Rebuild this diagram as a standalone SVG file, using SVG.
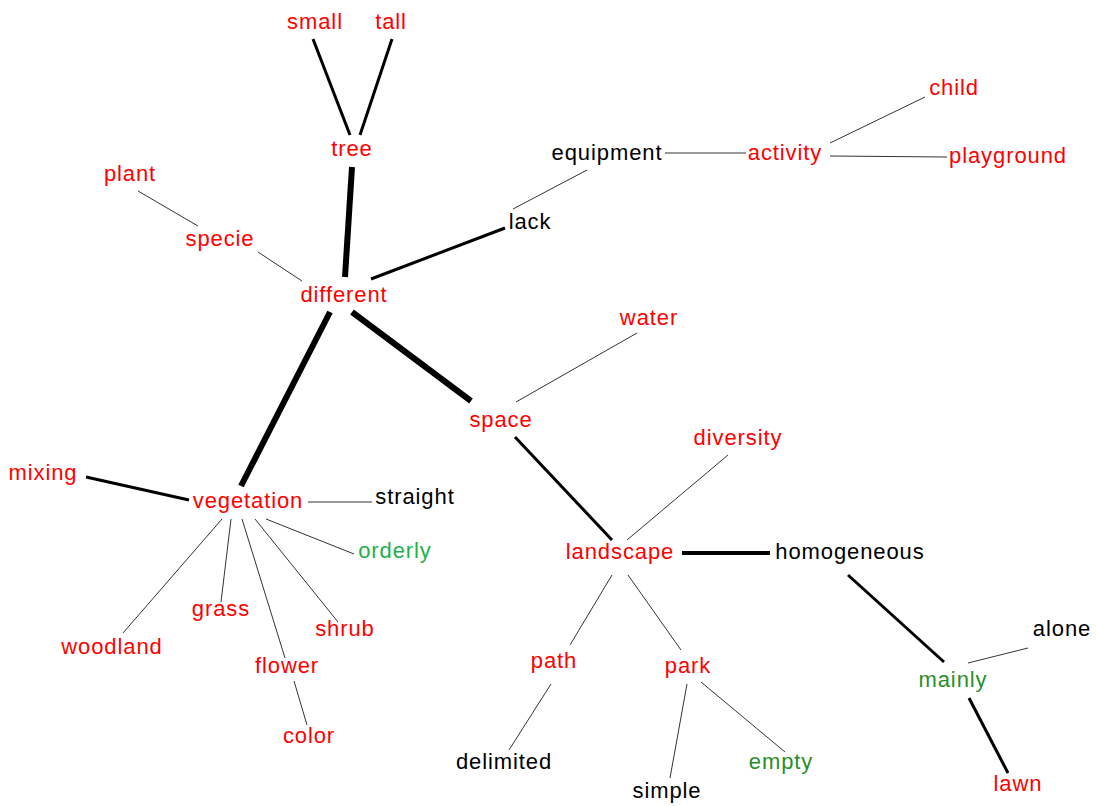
<svg xmlns="http://www.w3.org/2000/svg" width="1097" height="806" viewBox="0 0 1097 806">
<style>
text{font-family:"Liberation Sans",Arial,sans-serif;font-size:22px;letter-spacing:0.9px;text-anchor:middle}
.r{fill:#ff0000}.k{fill:#000}.g{fill:#22b14c}.d{fill:#2a8f2a}
line{stroke:#000;stroke-linecap:butt}
.t1{stroke:#333;stroke-width:1}
.t3{stroke-width:3}
.t4{stroke-width:4}
.t6{stroke-width:6}
</style>
<rect width="1097" height="806" fill="#fff"/>
<g id="connectors">
<line class="t3" x1="313" y1="39" x2="350" y2="135"/>
<line class="t3" x1="392" y1="39" x2="360" y2="135"/>
<line class="t6" x1="352" y1="167" x2="345" y2="277"/>
<line class="t1" x1="138" y1="191" x2="198" y2="226"/>
<line class="t1" x1="258" y1="252" x2="302" y2="281"/>
<line class="t3" x1="371" y1="279" x2="505" y2="228"/>
<line class="t1" x1="513" y1="209" x2="587" y2="170"/>
<line class="t1" x1="665" y1="153" x2="746" y2="153"/>
<line class="t1" x1="830" y1="143" x2="925" y2="97"/>
<line class="t1" x1="830" y1="156" x2="947" y2="157"/>
<line class="t6" x1="352" y1="312" x2="471" y2="401"/>
<line class="t1" x1="637" y1="333" x2="516" y2="402"/>
<line class="t6" x1="330" y1="312" x2="241" y2="486"/>
<line class="t3" x1="515" y1="437" x2="612" y2="540"/>
<line class="t1" x1="728" y1="455" x2="627" y2="540"/>
<line class="t3" x1="86" y1="477" x2="189" y2="500"/>
<line class="t1" x1="308" y1="502" x2="372" y2="502"/>
<line class="t1" x1="266" y1="519" x2="354" y2="554"/>
<line class="t1" x1="222" y1="519" x2="123" y2="633"/>
<line class="t1" x1="231" y1="519" x2="221" y2="602"/>
<line class="t1" x1="242" y1="519" x2="285" y2="658"/>
<line class="t1" x1="294" y1="681" x2="307" y2="725"/>
<line class="t1" x1="255" y1="519" x2="338" y2="622"/>
<line class="t4" x1="682" y1="553" x2="770" y2="553"/>
<line class="t3" x1="848" y1="575" x2="944" y2="662"/>
<line class="t1" x1="1028" y1="648" x2="968" y2="663"/>
<line class="t3" x1="969" y1="698" x2="1008" y2="773"/>
<line class="t1" x1="612" y1="575" x2="570" y2="645"/>
<line class="t1" x1="628" y1="575" x2="681" y2="650"/>
<line class="t1" x1="551" y1="684" x2="509" y2="750"/>
<line class="t1" x1="687" y1="684" x2="670" y2="778"/>
<line class="t1" x1="701" y1="682" x2="785" y2="752"/>
</g>
<g id="n-small"><text class="r" x="315" y="29">small</text></g>
<g id="n-tall"><text class="r" x="391" y="29">tall</text></g>
<g id="n-tree"><text class="r" x="352" y="156">tree</text></g>
<g id="n-plant"><text class="r" x="130" y="181">plant</text></g>
<g id="n-specie"><text class="r" x="220" y="246">specie</text></g>
<g id="n-different"><text class="r" x="344" y="302">different</text></g>
<g id="n-lack"><text class="k" x="530" y="229">lack</text></g>
<g id="n-equipment"><text class="k" x="607" y="160">equipment</text></g>
<g id="n-activity"><text class="r" x="785" y="160">activity</text></g>
<g id="n-child"><text class="r" x="954" y="95">child</text></g>
<g id="n-playground"><text class="r" x="1008" y="163">playground</text></g>
<g id="n-water"><text class="r" x="649" y="325">water</text></g>
<g id="n-space"><text class="r" x="501" y="427">space</text></g>
<g id="n-diversity"><text class="r" x="738" y="445">diversity</text></g>
<g id="n-mixing"><text class="r" x="43" y="480">mixing</text></g>
<g id="n-vegetation"><text class="r" x="248" y="508">vegetation</text></g>
<g id="n-straight"><text class="k" x="415" y="504">straight</text></g>
<g id="n-orderly"><text class="g" x="395" y="558">orderly</text></g>
<g id="n-woodland"><text class="r" x="112" y="654">woodland</text></g>
<g id="n-grass"><text class="r" x="221" y="616">grass</text></g>
<g id="n-shrub"><text class="r" x="345" y="636">shrub</text></g>
<g id="n-flower"><text class="r" x="287" y="673">flower</text></g>
<g id="n-color"><text class="r" x="309" y="743">color</text></g>
<g id="n-landscape"><text class="r" x="620" y="559">landscape</text></g>
<g id="n-homogeneous"><text class="k" x="850" y="559">homogeneous</text></g>
<g id="n-path"><text class="r" x="554" y="668">path</text></g>
<g id="n-park"><text class="r" x="688" y="673">park</text></g>
<g id="n-delimited"><text class="k" x="504" y="769">delimited</text></g>
<g id="n-simple"><text class="k" x="667" y="798">simple</text></g>
<g id="n-empty"><text class="d" x="781" y="769">empty</text></g>
<g id="n-alone"><text class="k" x="1062" y="636">alone</text></g>
<g id="n-mainly"><text class="d" x="953" y="687">mainly</text></g>
<g id="n-lawn"><text class="r" x="1018" y="791">lawn</text></g>
</svg>
